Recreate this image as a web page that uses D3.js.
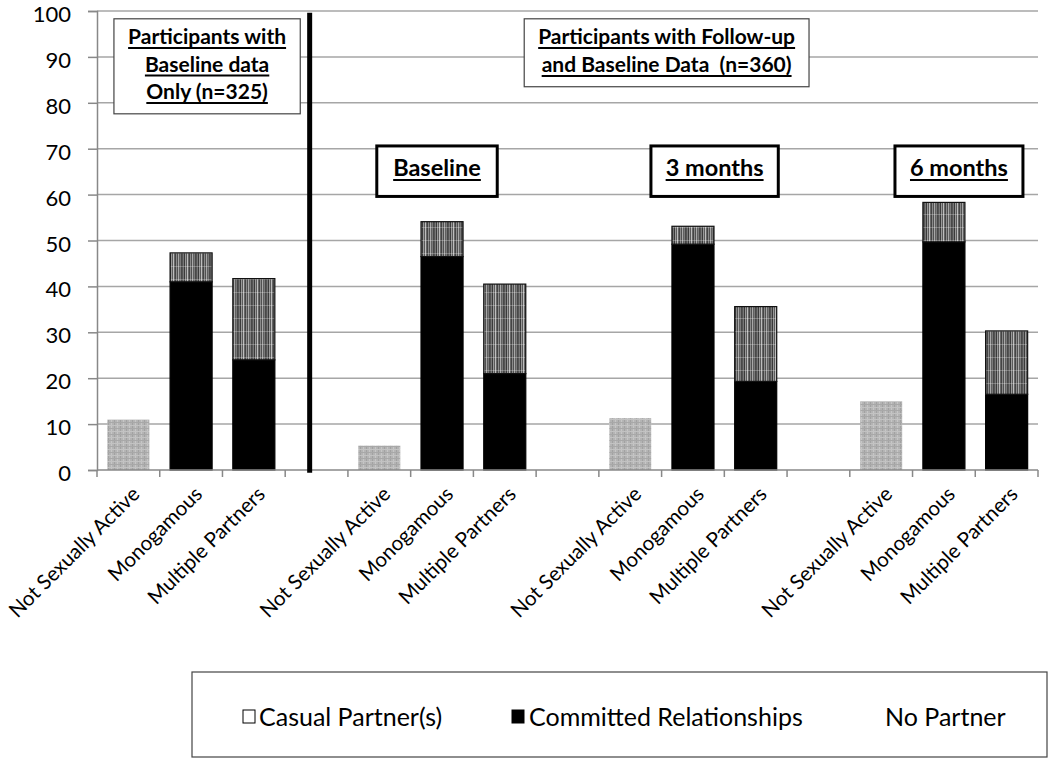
<!DOCTYPE html>
<html>
<head>
<meta charset="utf-8">
<script src="https://cdn.jsdelivr.net/npm/d3@7"></script>
<style>
  html, body { margin: 0; padding: 0; background: #fff; }
  svg { display: block; }
  text { font-family: Lato, "Open Sans", sans-serif; }
</style>
</head>
<body>
<script>
// ---------- DATA ----------
const categories = [
  "Not Sexually Active", "Monogamous", "Multiple Partners", "",
  "Not Sexually Active", "Monogamous", "Multiple Partners", "",
  "Not Sexually Active", "Monogamous", "Multiple Partners", "",
  "Not Sexually Active", "Monogamous", "Multiple Partners"
];
const committed = [0, 41.0, 24.0, 0, 0, 46.5, 21.0, 0, 0, 49.2, 19.3, 0, 0, 49.7, 16.5];
const casual    = [0, 6.3, 17.7, 0, 0, 7.6, 19.5, 0, 0, 3.9, 16.3, 0, 0, 8.6, 13.8];
const noPartner = [11.0, 0, 0, 0, 5.3, 0, 0, 0, 11.3, 0, 0, 0, 15.0, 0, 0];
const yTicks = [0, 10, 20, 30, 40, 50, 60, 70, 80, 90, 100];
const seriesNames = ["Casual Partner(s)", "Committed Relationships", "No Partner"];

const W = 1050, H = 762;
const plot = { left: 97, right: 1038, top: 11, bottom: 470 };

const svg = d3.select("body").append("svg").attr("width", W).attr("height", H);

// ---------- PATTERNS ----------
const defs = svg.append("defs");
const pNo = defs.append("pattern").attr("id", "pNo").attr("patternUnits", "userSpaceOnUse")
  .attr("width", 6).attr("height", 6);
pNo.append("rect").attr("width", 6).attr("height", 6).attr("fill", "#b4b4b4");
pNo.append("rect").attr("x", 0).attr("width", 1).attr("height", 6).attr("fill", "#a2a2a2");
pNo.append("rect").attr("x", 3).attr("width", 1).attr("height", 6).attr("fill", "#c6c6c6");
pNo.append("rect").attr("y", 2).attr("width", 6).attr("height", 1).attr("fill", "#a8a8a8");
pNo.append("rect").attr("y", 5).attr("width", 6).attr("height", 1).attr("fill", "#c2c2c2");

const pCas = defs.append("pattern").attr("id", "pCas").attr("patternUnits", "userSpaceOnUse")
  .attr("width", 14).attr("height", 13);
const stripes = ["#555", "#777", "#3a3a3a", "#999", "#5a5a5a", "#bdbdbd", "#666", "#444", "#8a8a8a", "#505050", "#a8a8a8", "#606060", "#7a7a7a", "#484848"];
stripes.forEach((c, i) => pCas.append("rect").attr("x", i).attr("width", 1).attr("height", 13).attr("fill", c));
pCas.append("rect").attr("y", 6).attr("width", 14).attr("height", 1).attr("fill", "#fff").attr("opacity", 0.25);

// ---------- SCALES ----------
const idx = d3.range(categories.length);
const x = d3.scaleBand().domain(idx).range([plot.left, plot.right]).paddingInner(0.33).paddingOuter(0.165);
const slot = d3.scaleLinear().domain([0, categories.length]).range([plot.left, plot.right]);
const y = d3.scaleLinear().domain([0, 100]).range([plot.bottom, plot.top]);

// ---------- GRID ----------
svg.append("g").selectAll("line").data(yTicks.filter(d => d > 0)).join("line")
  .attr("x1", plot.left).attr("x2", plot.right)
  .attr("y1", d => y(d)).attr("y2", d => y(d))
  .attr("stroke", "#a6a6a6").attr("stroke-width", 1.5);

// ---------- Y AXIS ----------
const yAxis = svg.append("g").attr("transform", `translate(${plot.left},0)`)
  .call(d3.axisLeft(y).tickValues(yTicks).tickSize(9).tickPadding(17).tickFormat(d3.format("d")));
yAxis.select(".domain").attr("stroke", "#888").attr("stroke-width", 1.5);
yAxis.selectAll(".tick line").attr("stroke", "#888").attr("stroke-width", 1.5);
yAxis.selectAll("text").attr("font-size", 22).attr("fill", "#000").attr("dy", "0.48em");

// ---------- BARS ----------
const stackData = idx.map(i => ({ i, committed: committed[i], casual: casual[i], noPartner: noPartner[i] }));
const stack = d3.stack().keys(["committed", "casual", "noPartner"])(stackData);
const fills = { committed: "#000", casual: "url(#pCas)", noPartner: "url(#pNo)" };
const strokes = { committed: "#000", casual: "#111", noPartner: "none" };

svg.append("g").selectAll("g").data(stack).join("g")
  .attr("fill", s => fills[s.key]).attr("stroke", s => strokes[s.key]).attr("stroke-width", 1.2)
  .selectAll("rect").data(s => s.filter(d => d[1] - d[0] > 0)).join("rect")
  .attr("x", d => x(d.data.i)).attr("width", x.bandwidth())
  .attr("y", d => y(d[1])).attr("height", d => y(d[0]) - y(d[1]));

// ---------- X AXIS ----------
const xAxisG = svg.append("g").attr("transform", `translate(0,${plot.bottom})`);
xAxisG.append("line").attr("x1", plot.left).attr("x2", plot.right).attr("stroke", "#888").attr("stroke-width", 1.5);
xAxisG.selectAll("line.tk").data(d3.range(categories.length + 1)).join("line").attr("class", "tk")
  .attr("x1", d => slot(d)).attr("x2", d => slot(d)).attr("y1", 0).attr("y2", 7)
  .attr("stroke", "#888").attr("stroke-width", 1.5);
xAxisG.selectAll("text").data(idx.filter(i => categories[i] !== "")).join("text")
  .attr("transform", i => `translate(${x(i) + x.bandwidth() / 2 + 2},15) rotate(-45)`)
  .attr("text-anchor", "end").attr("dy", "0.72em")
  .attr("font-size", 20.5).attr("fill", "#000")
  .text(i => categories[i]);

// ---------- DIVIDER ----------
svg.append("line").attr("x1", slot(3.39)).attr("x2", slot(3.39))
  .attr("y1", y(99.6)).attr("y2", y(-0.6))
  .attr("stroke", "#000").attr("stroke-width", 5);

// ---------- ANNOTATION BOXES ----------
const boxes = [
  { s0: 0.27, s1: 3.24, v0: 98.3, v1: 77.6, lines: ["Participants with", "Baseline data", "Only (n=325)"], size: 21, sw: 1.2, lh: 27.5, first: 44 },
  { s0: 6.81, s1: 11.35, v0: 98.3, v1: 83.5, lines: ["Participants with Follow-up", "and Baseline Data  (n=360)"], size: 21, sw: 1.2, lh: 28, first: 44 },
  { s0: 4.46, s1: 6.38, v0: 70.6, v1: 59.6, lines: ["Baseline"], size: 23.5, sw: 3, lh: 0, first: 176 },
  { s0: 8.83, s1: 10.86, v0: 70.6, v1: 59.6, lines: ["3 months"], size: 23.5, sw: 3, lh: 0, first: 176 },
  { s0: 12.72, s1: 14.76, v0: 70.6, v1: 59.6, lines: ["6 months"], size: 23.5, sw: 3, lh: 0, first: 176 }
];
boxes.forEach(b => {
  const g = svg.append("g");
  g.append("rect").attr("x", slot(b.s0)).attr("y", y(b.v0))
    .attr("width", slot(b.s1) - slot(b.s0)).attr("height", y(b.v1) - y(b.v0))
    .attr("fill", "#fff").attr("stroke", b.sw > 2 ? "#000" : "#444").attr("stroke-width", b.sw);
  const cx = (slot(b.s0) + slot(b.s1)) / 2;
  b.lines.forEach((ln, k) => {
    const t = g.append("text").attr("x", cx).attr("y", b.first + k * b.lh)
      .attr("text-anchor", "middle").attr("font-size", b.size).attr("font-weight", "bold")
      .attr("fill", "#000").attr("xml:space", "preserve").style("white-space", "pre").text(ln);
    const bb = t.node().getBBox();
    g.append("line").attr("x1", bb.x).attr("x2", bb.x + bb.width)
      .attr("y1", b.first + k * b.lh + 4).attr("y2", b.first + k * b.lh + 4)
      .attr("stroke", "#000").attr("stroke-width", 2);
  });
});

// ---------- LEGEND ----------
const lg = svg.append("g");
lg.append("rect").attr("x", 192).attr("y", 672).attr("width", 855).attr("height", 85)
  .attr("fill", "#fff").attr("stroke", "#444").attr("stroke-width", 1.2);
const legendItems = [
  { name: seriesNames[0], sx: 243, tx: 259, fill: "#fff" },
  { name: seriesNames[1], sx: 512, tx: 529, fill: "#000" },
  { name: seriesNames[2], sx: null, tx: 885, fill: null }
];
legendItems.forEach(it => {
  if (it.sx !== null) {
    lg.append("rect").attr("x", it.sx).attr("y", 710).attr("width", 12).attr("height", 13)
      .attr("fill", it.fill).attr("stroke", "#000").attr("stroke-width", 1);
  }
  lg.append("text").attr("x", it.tx).attr("y", 726).attr("font-size", 25).attr("fill", "#000").text(it.name);
});
</script>
</body>
</html>
